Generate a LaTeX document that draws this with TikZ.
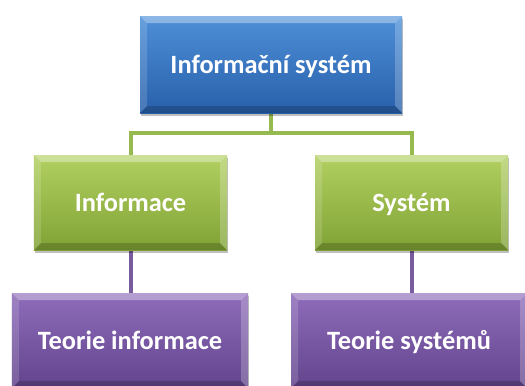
\documentclass[tikz,border=0pt]{standalone}
\usepackage{fontspec}
\setmainfont{Carlito}
\usetikzlibrary{shadows,backgrounds}
\definecolor{bluetop}{RGB}{78,143,216}
\definecolor{bluebot}{RGB}{40,96,170}
\definecolor{greentop}{RGB}{178,208,98}
\definecolor{greenbot}{RGB}{128,162,52}
\definecolor{purptop}{RGB}{142,108,186}
\definecolor{purpbot}{RGB}{98,68,140}
\definecolor{gline}{RGB}{150,185,80}
\definecolor{pline}{RGB}{120,92,158}
\tikzset{
  bevelbox/.style 2 args={
    draw=none, inner sep=0pt, text=white,
    font=\bfseries\fontsize{26.5}{30}\selectfont,
    text height=17bp, text depth=0pt,
    top color=#1, bottom color=#2,
    drop shadow={shadow xshift=1bp, shadow yshift=-3bp, opacity=0.25, fill=black},
    path picture={
      \coordinate (A) at (path picture bounding box.north west);
      \coordinate (B) at (path picture bounding box.north east);
      \coordinate (C) at (path picture bounding box.south east);
      \coordinate (D) at (path picture bounding box.south west);
      \coordinate (a) at ([xshift=7bp,yshift=-7bp]A);
      \coordinate (b) at ([xshift=-7bp,yshift=-7bp]B);
      \coordinate (c) at ([xshift=-7bp,yshift=7bp]C);
      \coordinate (d) at ([xshift=7bp,yshift=7bp]D);
      \fill[white,opacity=0.35] (A) -- (B) -- (b) -- (a) -- cycle;
      \fill[white,opacity=0.15] (A) -- (a) -- (d) -- (D) -- cycle;
      \fill[white,opacity=0.22] (B) -- (C) -- (c) -- (b) -- cycle;
      \fill[black,opacity=0.18] (D) -- (d) -- (c) -- (C) -- cycle;
    }
  },
  bluebox/.style={bevelbox={bluetop}{bluebot}},
  greenbox/.style={bevelbox={greentop}{greenbot}},
  purpbox/.style={bevelbox={purptop}{purpbot}},
  glink/.style={draw=gline, line width=4bp},
  plink/.style={draw=pline, line width=4bp}
}
\begin{document}
\begin{tikzpicture}[x=1bp,y=-1bp]
\useasboundingbox (0,0) rectangle (525,385);
\clip (0,0) rectangle (525,385);
\node[bluebox, minimum width=262bp, minimum height=97bp] (top) at (271,64.5) {Informační systém};
\node[greenbox, minimum width=193bp, minimum height=95bp] (gl) at (130.5,202.5) {Informace};
\node[greenbox, minimum width=193bp, minimum height=95bp] (gr) at (411.5,202.5) {Systém};
\node[purpbox, minimum width=236bp, minimum height=95bp] (pl) at (130,340.5) {Teorie informace};
\node[purpbox, minimum width=236bp, minimum height=95bp] (pr) at (409,340.5) {Teorie systémů};
\begin{scope}[on background layer]
\fill[white] (0,0) rectangle (525,385);
\draw[glink] (top.south) -- ++(0,20) -| (gl.north);
\draw[glink] (top.south) -- ++(0,20) -| (gr.north);
\draw[plink] (gl.south) -- (gl.south |- pl.north);
\draw[plink] (gr.south) -- (gr.south |- pr.north);
\end{scope}
\end{tikzpicture}
\end{document}
